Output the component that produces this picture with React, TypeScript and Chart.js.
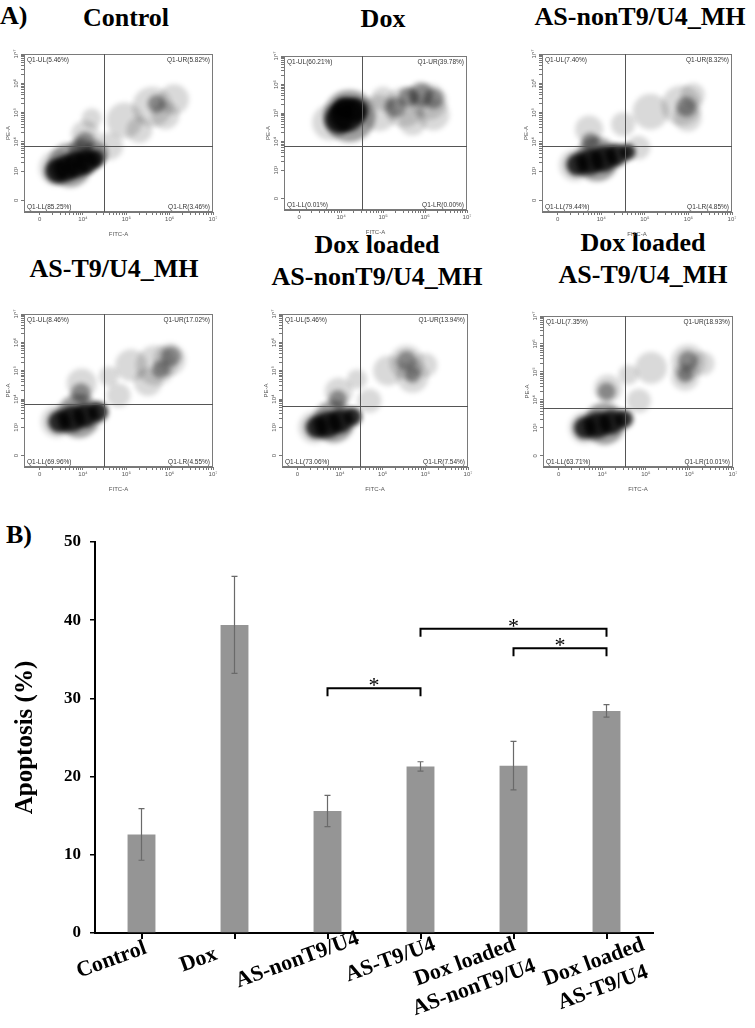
import React, { useEffect, useRef } from 'react';
import { Chart, registerables } from 'chart.js';

Chart.register(...registerables);

// ================= Panel A data (flow cytometry dot plots) =================
const panelTitles: string[][] = [
  ['Control'],
  ['Dox'],
  ['AS-nonT9/U4_MH'],
  ['AS-T9/U4_MH'],
  ['Dox loaded', 'AS-nonT9/U4_MH'],
  ['Dox loaded', 'AS-T9/U4_MH'],
];
const quadUL = ['5.46', '60.21', '7.40', '8.46', '5.46', '7.35'];
const quadUR = ['5.82', '39.78', '8.32', '17.02', '13.94', '18.93'];
const quadLL = ['85.25', '0.01', '79.44', '69.96', '73.06', '63.71'];
const quadLR = ['3.46', '0.00', '4.85', '4.55', '7.54', '10.01'];
// gate positions (decade units on the FITC-A / PE-A axes)
const gateX = [4.49, 4.49, 4.55, 4.49, 4.46, 4.53];
const gateY = [3.87, 3.85, 3.87, 3.81, 3.76, 3.72];

const fitcTicks = [3, 4, 5, 6, 7];
const fitcTickLabels = ['0', '10⁴', '10⁵', '10⁶', '10⁷'];
const peTicks = [2, 3, 4, 5, 6, 7];
const peTickLabels = ['0', '10³', '10⁴', '10⁵', '10⁶', '10⁷'];

// estimated cell clouds: [FITC decade, PE decade, radius]
const sparseClouds: number[][][] = [
  [[4.05, 4.25, 14], [4.2, 4.8, 10], [4.6, 3.85, 14], [4.96, 4.73, 18], [5.6, 5.2, 20], [6.1, 5.45, 15], [5.9, 4.9, 14], [5.3, 4.4, 13], [3.4, 3.1, 18]],
  [[3.74, 4.67, 18], [4.9, 5.0, 18], [5.5, 5.2, 20], [6.1, 5.4, 18], [6.2, 4.95, 16], [5.7, 4.7, 14], [5.0, 5.5, 12]],
  [[3.72, 4.42, 14], [4.85, 3.8, 12], [5.13, 5.03, 18], [5.84, 5.24, 20], [5.98, 4.83, 14], [4.5, 4.6, 12], [6.1, 5.6, 12], [3.4, 3.2, 16]],
  [[3.97, 4.55, 15], [4.82, 4.13, 12], [5.11, 5.19, 16], [5.68, 5.19, 20], [6.0, 5.4, 16], [5.5, 4.6, 14], [4.6, 4.8, 10], [3.4, 3.2, 16]],
  [[3.97, 4.26, 14], [4.69, 3.94, 12], [5.13, 5.0, 15], [5.56, 5.3, 17], [5.7, 4.79, 16], [6.0, 5.2, 12], [4.4, 4.7, 10], [3.4, 3.0, 16]],
  [[4.13, 4.4, 14], [4.84, 3.97, 12], [5.12, 5.15, 16], [5.97, 5.37, 17], [5.9, 4.83, 14], [6.3, 5.3, 12], [4.6, 4.9, 10], [3.6, 3.0, 16]],
];
const midClouds: number[][][] = [
  [[3.7, 3.2, 22], [4.05, 4.0, 10], [3.95, 3.7, 12], [4.3, 3.6, 12], [5.7, 5.3, 9]],
  [[4.2, 4.9, 26], [5.9, 5.65, 12], [6.2, 5.5, 10], [5.6, 5.55, 10], [5.3, 5.2, 10]],
  [[3.9, 3.4, 22], [3.75, 4.0, 9], [5.95, 5.2, 10]],
  [[3.9, 3.4, 22], [3.95, 4.2, 10], [6.03, 5.5, 10], [5.8, 5.05, 9]],
  [[3.85, 3.2, 21], [3.95, 4.0, 9], [5.56, 5.35, 10], [5.7, 4.85, 8]],
  [[4.05, 3.15, 21], [4.1, 4.3, 9], [5.97, 5.4, 10], [5.9, 4.9, 8]],
];
const denseClouds: number[][][] = [
  [[3.4, 3.0, 12], [3.62, 3.1, 13], [3.85, 3.22, 13], [4.08, 3.32, 12], [4.28, 3.42, 9]],
  [[3.95, 4.78, 14], [4.15, 4.95, 17], [4.35, 5.1, 12], [4.05, 5.15, 10]],
  [[3.45, 3.22, 11], [3.75, 3.32, 13], [4.05, 3.42, 13], [4.35, 3.55, 11], [4.6, 3.65, 8]],
  [[3.45, 3.2, 11], [3.75, 3.3, 13], [4.05, 3.42, 12], [4.35, 3.55, 10]],
  [[3.45, 3.0, 11], [3.72, 3.1, 13], [4.0, 3.22, 12], [4.3, 3.38, 9]],
  [[3.6, 3.0, 11], [3.9, 3.1, 13], [4.2, 3.2, 12], [4.5, 3.32, 9]],
];

// ================= Panel B data (bar chart) =================
const categories: string[][] = [
  ['Control'],
  ['Dox'],
  ['AS-nonT9/U4'],
  ['AS-T9/U4'],
  ['Dox loaded', 'AS-nonT9/U4'],
  ['Dox loaded', 'AS-T9/U4'],
];
const apoptosis = [12.6, 39.4, 15.6, 21.3, 21.4, 28.4];
const apoptosisErr = [3.3, 6.2, 2.0, 0.6, 3.1, 0.8];
const sigFrom = [2, 3, 4];
const sigTo = [3, 5, 5];
const sigLevel = [31.3, 38.9, 36.4];
const sigMark = ['*', '*', '*'];

// ================= layout (page pixels) =================
const FRAMES = [
  [24, 36, 229, 212],
  [282, 34, 487, 210],
  [542, 36, 748, 212],
  [24, 296, 229, 467],
  [282, 297, 483, 467],
  [543, 299, 748, 467],
];
const TITLE_POS = [
  [[126, 17.5]],
  [[383, 19]],
  [[640, 16.5]],
  [[114, 269]],
  [[377, 245], [377, 276.5]],
  [[643, 243], [643, 275]],
];
const Y_AXIS_W = 24;
const X_AXIS_H = 26;
const PAD_T = 4;
const PAD_R = 6;

function minorTicks(from: number, to: number) {
  const out: number[] = [];
  for (let d = from; d < to; d++) {
    for (let k = 2; k <= 9; k++) out.push(d + Math.log10(k));
  }
  return out;
}

const flowDeco = {
  id: 'flowDeco',
  beforeDatasetsDraw(chart: any) {
    const ctx = chart.ctx;
    ctx.save();
    ctx.filter = 'blur(2.5px)';
  },
  afterDatasetsDraw(chart: any, _args: any, opts: any) {
    const { ctx, chartArea, scales } = chart;
    ctx.restore();
    const { left, top, right, bottom } = chartArea;
    const i = opts.index;
    ctx.save();
    // mask blur spill outside the plot frame
    ctx.fillStyle = '#fff';
    ctx.fillRect(left - 8, top - 8, right - left + 16, 8);
    ctx.fillRect(right, top - 8, 8, bottom - top + 8);
    ctx.strokeStyle = '#7a7a7a';
    ctx.lineWidth = 1;
    ctx.strokeRect(left + 0.5, top + 0.5, right - left - 1, bottom - top - 1);
    const gx = Math.round(scales.x.getPixelForValue(gateX[i])) + 0.5;
    const gy = Math.round(scales.y.getPixelForValue(gateY[i])) + 0.5;
    ctx.strokeStyle = '#555';
    ctx.beginPath();
    ctx.moveTo(gx, top);
    ctx.lineTo(gx, bottom);
    ctx.moveTo(left, gy);
    ctx.lineTo(right, gy);
    ctx.stroke();
    ctx.fillStyle = '#333';
    ctx.font = '6.5px "Liberation Sans", Arial, sans-serif';
    ctx.textBaseline = 'top';
    ctx.textAlign = 'left';
    ctx.fillText(`Q1-UL(${quadUL[i]}%)`, left + 3, top + 3);
    ctx.textAlign = 'right';
    ctx.fillText(`Q1-UR(${quadUR[i]}%)`, right - 3, top + 3);
    ctx.textBaseline = 'bottom';
    ctx.textAlign = 'left';
    ctx.fillText(`Q1-LL(${quadLL[i]}%)`, left + 3, bottom - 2);
    ctx.textAlign = 'right';
    ctx.fillText(`Q1-LR(${quadLR[i]}%)`, right - 3, bottom - 2);
    ctx.restore();
  },
};

function FlowPanel({ i }: { i: number }) {
  const ref = useRef<HTMLCanvasElement | null>(null);
  const [L, T, R, B] = FRAMES[i];
  const w = R - L + Y_AXIS_W + PAD_R;
  const h = B - T + PAD_T + X_AXIS_H;
  useEffect(() => {
    const toPts = (arr: number[][]) => arr.map(([x, y, r]) => ({ x, y, r }));
    const smallFont = { size: 6, family: '"Liberation Sans", Arial, sans-serif' };
    const chart = new Chart(ref.current as HTMLCanvasElement, {
      type: 'bubble',
      data: {
        datasets: [
          { data: toPts(sparseClouds[i]), backgroundColor: 'rgba(0,0,0,0.15)', borderWidth: 0, clip: 0 } as any,
          { data: toPts(midClouds[i]), backgroundColor: 'rgba(0,0,0,0.38)', borderWidth: 0, clip: 0 } as any,
          { data: toPts(denseClouds[i]), backgroundColor: 'rgba(0,0,0,0.82)', borderWidth: 0, clip: 0 } as any,
        ],
      },
      options: {
        responsive: false,
        animation: false,
        events: [],
        layout: { padding: { top: PAD_T, right: PAD_R, left: 0, bottom: 0 } },
        plugins: {
          legend: { display: false },
          tooltip: { enabled: false },
          flowDeco: { index: i },
        } as any,
        scales: {
          x: {
            type: 'linear',
            min: 2.64,
            max: 7,
            afterBuildTicks: (s: any) => {
              s.ticks = [...fitcTicks, ...minorTicks(3, 7)].map((v) => ({ value: v }));
            },
            afterFit: (s: any) => {
              s.height = X_AXIS_H;
            },
            ticks: {
              autoSkip: false,
              maxRotation: 0,
              minRotation: 0,
              padding: 1,
              font: smallFont,
              color: '#555',
              callback: (v: any) => {
                const k = fitcTicks.indexOf(v);
                return k >= 0 ? fitcTickLabels[k] : '';
              },
            },
            grid: { drawOnChartArea: false, drawTicks: true, tickLength: 3, color: '#777' },
            border: { display: true, color: '#777' },
            title: { display: true, text: 'FITC-A', font: smallFont, color: '#555', padding: { top: 1, bottom: 0 } },
          },
          y: {
            type: 'linear',
            min: 1.6,
            max: 7,
            afterBuildTicks: (s: any) => {
              s.ticks = [...peTicks, ...minorTicks(3, 7)].map((v) => ({ value: v }));
            },
            afterFit: (s: any) => {
              s.width = Y_AXIS_W;
            },
            ticks: {
              autoSkip: false,
              minRotation: 90,
              maxRotation: 90,
              crossAlign: 'center',
              padding: 0,
              font: smallFont,
              color: '#555',
              callback: (v: any) => {
                const k = peTicks.indexOf(v);
                return k >= 0 ? peTickLabels[k] : '';
              },
            },
            grid: { drawOnChartArea: false, drawTicks: true, tickLength: 3, color: '#777' },
            border: { display: true, color: '#777' },
            title: { display: true, text: 'PE-A', font: smallFont, color: '#555', padding: { top: 5, bottom: 0 } },
          },
        },
      } as any,
      plugins: [flowDeco],
    });
    return () => chart.destroy();
  }, [i]);
  return (
    <canvas
      ref={ref}
      width={w}
      height={h}
      style={{ position: 'absolute', left: L - Y_AXIS_W, top: T - PAD_T, width: w, height: h }}
    />
  );
}

// ================= bar chart =================
const BAR_TOP = 490;
const LABEL_SHIFT = [-30, -36, -30, -30, -44, -8];

const barDeco = {
  id: 'barDeco',
  afterDatasetsDraw(chart: any) {
    const { ctx, scales, chartArea } = chart;
    const x = scales.x;
    const y = scales.y;
    ctx.save();
    // error bars
    ctx.strokeStyle = '#6a6a6a';
    ctx.lineWidth = 1.2;
    apoptosis.forEach((v, i) => {
      const px = x.getPixelForValue(i);
      const yt = y.getPixelForValue(v + apoptosisErr[i]);
      const yb = y.getPixelForValue(v - apoptosisErr[i]);
      ctx.beginPath();
      ctx.moveTo(px, yt);
      ctx.lineTo(px, yb);
      ctx.moveTo(px - 3, yt);
      ctx.lineTo(px + 3, yt);
      ctx.moveTo(px - 3, yb);
      ctx.lineTo(px + 3, yb);
      ctx.stroke();
    });
    // significance brackets
    ctx.strokeStyle = '#000';
    ctx.fillStyle = '#000';
    ctx.lineWidth = 2;
    sigFrom.forEach((a, k) => {
      const x1 = x.getPixelForValue(a);
      const x2 = x.getPixelForValue(sigTo[k]);
      const yy = y.getPixelForValue(sigLevel[k]);
      ctx.beginPath();
      ctx.moveTo(x1, yy + 8);
      ctx.lineTo(x1, yy);
      ctx.lineTo(x2, yy);
      ctx.lineTo(x2, yy + 8);
      ctx.stroke();
      ctx.font = '22px "Liberation Serif", "Times New Roman", serif';
      ctx.textAlign = 'center';
      ctx.textBaseline = 'alphabetic';
      ctx.fillText(sigMark[k], (x1 + x2) / 2, yy + 4);
    });
    // rotated category labels
    ctx.font = 'bold 22px "Liberation Serif", "Times New Roman", serif';
    ctx.textAlign = 'center';
    ctx.textBaseline = 'middle';
    categories.forEach((lines, i) => {
      const cx = x.getPixelForValue(i) + LABEL_SHIFT[i];
      const cy = chartArea.bottom + (lines.length === 1 ? 27 : 42);
      ctx.save();
      ctx.translate(cx, cy);
      ctx.rotate((-20 * Math.PI) / 180);
      lines.forEach((t, j) => {
        ctx.fillText(t, 0, (j - (lines.length - 1) / 2) * 27);
      });
      ctx.restore();
    });
    ctx.restore();
  },
};

function BarPanel() {
  const ref = useRef<HTMLCanvasElement | null>(null);
  const W = 755;
  const H = 538;
  useEffect(() => {
    const serifBold = (size: number) => ({ family: '"Liberation Serif", "Times New Roman", serif', weight: 'bold' as const, size });
    const chart = new Chart(ref.current as HTMLCanvasElement, {
      type: 'bar',
      data: {
        labels: categories.map((c) => c.join(' ')),
        datasets: [
          {
            data: apoptosis,
            backgroundColor: '#959595',
            borderWidth: 0,
            barPercentage: 0.3,
            categoryPercentage: 1,
          },
        ],
      },
      options: {
        responsive: false,
        animation: false,
        events: [],
        layout: { padding: { top: 52, right: 102, left: 0, bottom: 0 } },
        plugins: { legend: { display: false }, tooltip: { enabled: false } },
        scales: {
          x: {
            afterFit: (s: any) => {
              s.height = H - 443;
            },
            ticks: { callback: () => '', maxRotation: 0, autoSkip: false },
            grid: { drawOnChartArea: false, offset: false, tickLength: 6, color: '#000', lineWidth: 2 },
            border: { color: '#000', width: 2 },
          },
          y: {
            min: 0,
            max: 50,
            afterFit: (s: any) => {
              s.width = 95;
            },
            ticks: { stepSize: 10, font: serifBold(17), color: '#000', padding: 9 },
            grid: { drawOnChartArea: false, tickLength: 5, color: '#000', lineWidth: 1.5 },
            border: { color: '#000', width: 2 },
            title: {
              display: true,
              text: 'Apoptosis (%)',
              font: serifBold(25),
              color: '#000',
              padding: { top: 11, bottom: 0 },
            },
          },
        },
      } as any,
      plugins: [barDeco],
    });
    return () => chart.destroy();
  }, []);
  return (
    <canvas
      ref={ref}
      width={W}
      height={H}
      style={{ position: 'absolute', left: 0, top: BAR_TOP, width: W, height: H }}
    />
  );
}

const titleFont: React.CSSProperties = {
  position: 'absolute',
  transform: 'translate(-50%, -50%)',
  whiteSpace: 'nowrap',
  fontFamily: '"Liberation Serif", "Times New Roman", serif',
  fontWeight: 'bold',
  fontSize: 26,
  lineHeight: '30px',
  color: '#000',
};

export default function App() {
  return (
    <div
      style={{
        position: 'absolute',
        left: 0,
        top: 0,
        width: 755,
        height: 1028,
        background: '#fff',
        overflow: 'hidden',
      }}
    >
      <div style={{ ...titleFont, transform: 'translate(0, -50%)', left: 0, top: 16 }}>A)</div>
      <div style={{ ...titleFont, transform: 'translate(0, -50%)', left: 6, top: 535 }}>B)</div>
      {panelTitles.map((lines, i) =>
        lines.map((t, j) => (
          <div key={`t${i}-${j}`} style={{ ...titleFont, left: TITLE_POS[i][j][0], top: TITLE_POS[i][j][1] }}>
            {t}
          </div>
        ))
      )}
      {FRAMES.map((_, i) => (
        <FlowPanel key={i} i={i} />
      ))}
      <BarPanel />
    </div>
  );
}
